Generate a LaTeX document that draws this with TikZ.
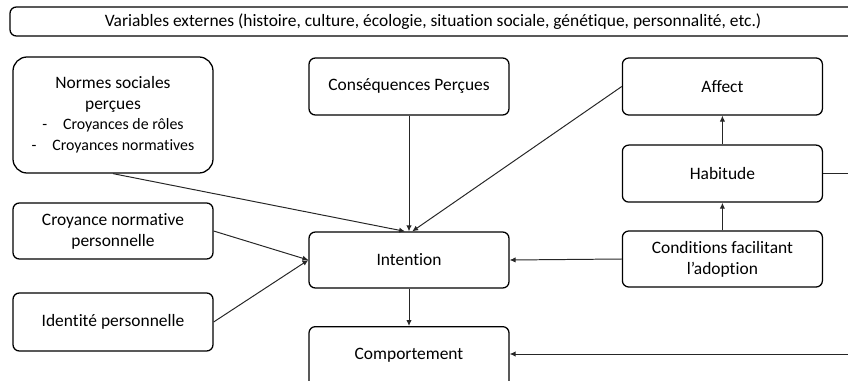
\documentclass[tikz,border=0pt]{standalone}
\usepackage{fontspec}
\setmainfont{Carlito}[Ligatures=NoCommon]
\usetikzlibrary{arrows.meta}

\newcommand{\petit}{\fontsize{11.3}{12.2}\selectfont}

\begin{document}
\begin{tikzpicture}[
    >={Latex[length=4.2pt,width=3.8pt]},
    boite/.style={draw, line width=0.9pt, rounded corners=4.5pt, align=center,
        minimum width=5cm, minimum height=1.425cm, font=\fontsize{12.4}{15}\selectfont},
    fleche/.style={->, line width=0.7pt, black!85}
]
    \useasboundingbox (0,0) rectangle (21.2,-9.5);

    \node [boite, minimum width=21.15cm, minimum height=0.725cm] (ext) at (10.825,-0.5375)
        {Variables externes (histoire, culture, écologie, situation sociale, génétique, personnalité, etc.)};

    % colonne de gauche
    \node [boite, minimum height=2.9cm, rounded corners=10pt] (normes) at (2.825,-2.875)
        {Normes sociales\\perçues\\[-1pt]\petit -\quad Croyances de rôles\\\petit -\quad Croyances normatives};
    \node [boite, minimum height=1.4cm] (croy) at (2.825,-5.775) {Croyance normative\\personnelle};
    \node [boite, minimum height=1.45cm] (ident) at (2.825,-8.05) {Identité personnelle};

    % colonne du milieu
    \node [boite] (csq) at (10.225,-2.1625) {Conséquences Perçues};
    \node [boite, minimum height=1.4cm] (int) at (10.225,-6.5) {Intention};
    \node [boite, minimum height=1.7cm, anchor=north] (comp) at (10.225,-8.15) {\\[-14pt]Comportement};

    % colonne de droite
    \node [boite] (affect) at (18.06,-2.1625) {Affect};
    \node [boite] (habit) at (18.06,-4.34) {Habitude};
    \node [boite, minimum height=1.4cm] (cond) at (18.06,-6.475) {Conditions facilitant\\l’adoption};

    \draw [fleche] (normes.south) -- ([xshift=-0.1cm]int.north);
    \draw [fleche] (csq.south) -- (int.north);
    \draw [fleche] (affect.west) -- ([xshift=0.08cm]int.north);
    \draw [fleche] (croy.east) -- (int.west);
    \draw [fleche] (ident.east) -- (int.west);
    \draw [fleche] (cond.west) -- (int.east);
    \draw [fleche] (cond.north) -- (habit.south);
    \draw [fleche] (habit.north) -- (affect.south);
    \draw [fleche] (int.south) -- (comp.north);

    % retour de l'habitude vers le comportement, hors cadre
    \coordinate (bas) at (21.5,-8.85);
    \draw [fleche] (habit.east) -| (bas) -- (bas -| comp.east);
\end{tikzpicture}
\end{document}
